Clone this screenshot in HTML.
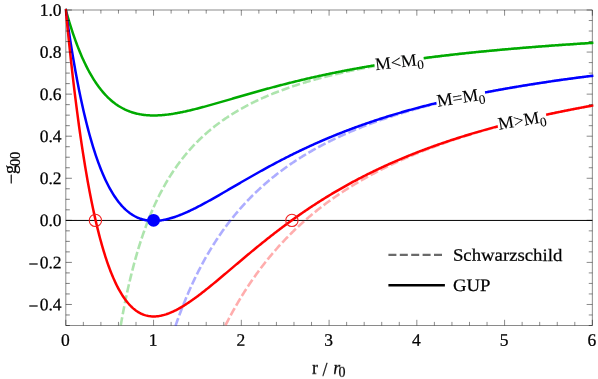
<!DOCTYPE html>
<html><head><meta charset="utf-8"><style>
html,body{margin:0;padding:0;background:#fff;}
body{width:598px;height:379px;overflow:hidden;font-family:"Liberation Serif",serif;}
svg{display:block}
text{font-family:"Liberation Serif",serif;fill:#000;stroke:#000;stroke-width:0.25px}
.tk line{stroke:#000;stroke-opacity:0.46;stroke-width:1}
.tk line.dk{stroke:#000;stroke-opacity:0.5}
</style></head><body>
<svg width="598" height="379" viewBox="0 0 598 379">
<rect width="598" height="379" fill="#fff"/>
<defs><clipPath id="cp"><rect x="64.70" y="7.80" width="528.95" height="318.40"/></clipPath></defs>
<line x1="65.80" y1="220.33" x2="592.35" y2="220.33" stroke="#000" stroke-width="1" transform="translate(0,0.1)"/>
<line x1="65.80" y1="10.00" x2="592.35" y2="10.00" stroke="#000" stroke-opacity="0.46"/>
<line x1="592.35" y1="10.00" x2="592.35" y2="325.50" stroke="#000" stroke-opacity="0.46"/>
<line x1="65.80" y1="10.00" x2="65.80" y2="325.50" stroke="#000" stroke-opacity="0.46"/>
<line x1="65.80" y1="325.50" x2="592.35" y2="325.50" stroke="#000" stroke-opacity="0.46"/>
<g clip-path="url(#cp)">
<path d="M118.31,339.89 L118.99,335.68 L119.67,331.58 L120.35,327.58 L121.03,323.67 L121.71,319.86 L122.39,316.15 L123.07,312.52 L123.75,308.97 L124.42,305.51 L125.10,302.13 L125.78,298.82 L126.46,295.59 L127.14,292.43 L127.82,289.34 L128.50,286.31 L129.18,283.35 L129.86,280.46 L130.53,277.62 L131.21,274.84 L131.89,272.12 L132.57,269.46 L133.25,266.84 L133.93,264.28 L134.61,261.78 L135.29,259.32 L135.97,256.90 L136.64,254.54 L137.32,252.22 L138.00,249.94 L138.68,247.70 L139.36,245.51 L140.04,243.36 L140.72,241.24 L141.40,239.17 L142.08,237.13 L142.75,235.12 L143.43,233.15 L144.11,231.22 L144.79,229.32 L145.47,227.45 L146.15,225.61 L146.83,223.81 L147.51,222.03 L148.19,220.28 L148.86,218.56 L149.54,216.87 L150.22,215.21 L150.90,213.57 L151.58,211.96 L152.26,210.37 L152.94,208.81 L153.62,207.28 L154.30,205.76 L154.97,204.27 L155.65,202.80 L156.33,201.36 L157.01,199.93 L157.69,198.53 L158.37,197.15 L159.05,195.79 L159.73,194.44 L160.41,193.12 L161.08,191.82 L161.76,190.53 L162.44,189.26 L163.12,188.01 L163.80,186.78 L164.48,185.56 L165.16,184.36 L165.84,183.18 L166.52,182.01 L167.19,180.86 L167.87,179.72 L168.55,178.60 L169.23,177.49 L169.91,176.40 L170.59,175.32 L171.27,174.26 L171.95,173.21 L172.63,172.17 L173.30,171.15 L173.98,170.14 L174.66,169.14 L175.34,168.15 L176.02,167.18 L176.70,166.22 L177.38,165.27 L178.06,164.33 L178.74,163.40 L179.41,162.48 L180.09,161.58 L180.77,160.68 L181.45,159.80 L182.13,158.92 L182.81,158.06 L183.49,157.20 L184.17,156.36 L184.85,155.53 L185.52,154.70 L186.20,153.88 L186.88,153.08 L187.56,152.28 L188.24,151.49 L188.92,150.71 L189.60,149.94 L190.28,149.18 L190.96,148.42 L191.63,147.67 L192.31,146.94 L192.99,146.20 L193.67,145.48 L194.35,144.77 L195.03,144.06 L195.71,143.36 L196.39,142.66 L197.07,141.98 L197.74,141.30 L198.42,140.63 L199.10,139.96 L199.78,139.30 L200.46,138.65 L201.14,138.01 L201.82,137.37 L202.50,136.73 L203.18,136.11 L203.85,135.49 L204.53,134.87 L205.21,134.27 L205.89,133.66 L206.57,133.07 L207.25,132.48 L207.93,131.89 L208.61,131.31 L209.29,130.74 L209.96,130.17 L210.64,129.61 L211.32,129.05 L212.00,128.50 L212.68,127.95 L213.36,127.40 L214.04,126.87 L214.72,126.33 L215.40,125.81 L216.07,125.28 L216.75,124.76 L217.43,124.25 L218.11,123.74 L218.79,123.24 L219.47,122.74 L220.15,122.24 L220.83,121.75 L221.51,121.26 L222.18,120.78 L222.86,120.30 L223.54,119.83 L224.22,119.35 L224.90,118.89 L225.58,118.43 L226.26,117.97 L226.94,117.51 L227.62,117.06 L228.29,116.61 L228.97,116.17 L229.65,115.73 L230.33,115.29 L231.01,114.86 L231.69,114.43 L232.37,114.01 L233.05,113.58 L233.73,113.17 L234.40,112.75 L235.08,112.34 L235.76,111.93 L236.44,111.52 L237.12,111.12 L237.80,110.72 L238.48,110.33 L239.16,109.93 L239.84,109.54 L240.51,109.16 L241.19,108.77 L241.87,108.39 L242.55,108.01 L243.23,107.64 L243.91,107.27 L244.59,106.90 L245.27,106.53 L245.95,106.17 L246.62,105.81 L247.30,105.45 L247.98,105.09 L248.66,104.74 L249.34,104.39 L250.02,104.04 L250.70,103.70 L251.38,103.35 L252.06,103.01 L252.73,102.67 L253.41,102.34 L254.09,102.01 L254.77,101.68 L255.45,101.35 L256.13,101.02 L256.81,100.70 L257.49,100.38 L258.17,100.06 L258.84,99.74 L259.52,99.43 L260.20,99.11 L260.88,98.80 L261.56,98.50 L262.24,98.19 L262.92,97.89 L263.60,97.59 L264.28,97.29 L264.95,96.99 L265.63,96.69 L266.31,96.40 L266.99,96.11 L267.67,95.82 L268.35,95.53 L269.03,95.24 L269.71,94.96 L270.39,94.68 L271.06,94.40 L271.74,94.12 L272.42,93.84 L273.10,93.57 L273.78,93.30 L274.46,93.03 L275.14,92.76 L275.82,92.49 L276.50,92.22 L277.17,91.96 L277.85,91.70 L278.53,91.44 L279.21,91.18 L279.89,90.92 L280.57,90.66 L281.25,90.41 L281.93,90.16 L282.61,89.91 L283.28,89.66 L283.96,89.41 L284.64,89.16 L285.32,88.92 L286.00,88.67 L286.68,88.43 L287.36,88.19 L288.04,87.95 L288.72,87.72 L289.40,87.48 L290.07,87.25 L290.75,87.01 L291.43,86.78 L292.11,86.55 L292.79,86.32 L293.47,86.09 L294.15,85.87 L294.83,85.64 L295.51,85.42 L296.18,85.20 L296.86,84.98 L297.54,84.76 L298.22,84.54 L298.90,84.32 L299.58,84.11 L300.26,83.89 L300.94,83.68 L301.62,83.47 L302.29,83.25 L302.97,83.04 L303.65,82.84 L304.33,82.63 L305.01,82.42 L305.69,82.22 L306.37,82.01 L307.05,81.81 L307.73,81.61 L308.40,81.41 L309.08,81.21 L309.76,81.01 L310.44,80.81 L311.12,80.62 L311.80,80.42 L312.48,80.23 L313.16,80.04 L313.84,79.85 L314.51,79.66 L315.19,79.47 L315.87,79.28 L316.55,79.09 L317.23,78.90 L317.91,78.72 L318.59,78.53 L319.27,78.35 L319.95,78.17 L320.62,77.98 L321.30,77.80 L321.98,77.62 L322.66,77.45 L323.34,77.27 L324.02,77.09 L324.70,76.92 L325.38,76.74 L326.06,76.57 L326.73,76.39 L327.41,76.22 L328.09,76.05 L328.77,75.88 L329.45,75.71 L330.13,75.54 L330.81,75.37 L331.49,75.21 L332.17,75.04 L332.84,74.87 L333.52,74.71 L334.20,74.55 L334.88,74.38 L335.56,74.22 L336.24,74.06 L336.92,73.90 L337.60,73.74 L338.28,73.58 L338.95,73.42 L339.63,73.27 L340.31,73.11 L340.99,72.95 L341.67,72.80 L342.35,72.64 L343.03,72.49 L343.71,72.34 L344.39,72.19 L345.06,72.04 L345.74,71.88 L346.42,71.73 L347.10,71.59 L347.78,71.44 L348.46,71.29 L349.14,71.14 L349.82,71.00 L350.50,70.85 L351.17,70.71 L351.85,70.56 L352.53,70.42 L353.21,70.28 L353.89,70.13 L354.57,69.99 L355.25,69.85 L355.93,69.71 L356.61,69.57 L357.28,69.43 L357.96,69.30 L358.64,69.16 L359.32,69.02 L360.00,68.89 L360.68,68.75 L361.36,68.62 L362.04,68.48 L362.72,68.35 L363.39,68.21 L364.07,68.08 L364.75,67.95 L365.43,67.82 L366.11,67.69 L366.79,67.56 L367.47,67.43 L368.15,67.30 L368.83,67.17 L369.50,67.04 L370.18,66.92 L370.86,66.79 L371.54,66.66 L372.22,66.54 L372.90,66.41 L373.58,66.29 L374.26,66.16 L374.94,66.04 L375.61,65.92 L376.29,65.80 L376.97,65.67 L377.65,65.55 L378.33,65.43 L379.01,65.31 L379.69,65.19 L380.37,65.07 L381.05,64.95 L381.72,64.84 L382.40,64.72 L383.08,64.60 L383.76,64.49 L384.44,64.37 L385.12,64.25 L385.80,64.14 L386.48,64.02 L387.16,63.91 L387.83,63.80 L388.51,63.68 L389.19,63.57 L389.87,63.46 L390.55,63.35 L391.23,63.23 L391.91,63.12 L392.59,63.01 L393.27,62.90 L393.94,62.79 L394.62,62.69 L395.30,62.58 L395.98,62.47 L396.66,62.36 L397.34,62.25 L398.02,62.15 L398.70,62.04 L399.38,61.93 L400.05,61.83 L400.73,61.72 L401.41,61.62 L402.09,61.52 L402.77,61.41 L403.45,61.31 L404.13,61.21 L404.81,61.10 L405.49,61.00 L406.16,60.90 L406.84,60.80 L407.52,60.70 L408.20,60.60 L408.88,60.50 L409.56,60.40 L410.24,60.30 L410.92,60.20 L411.60,60.10 L412.27,60.00 L412.95,59.90 L413.63,59.81 L414.31,59.71 L414.99,59.61 L415.67,59.52 L416.35,59.42 L417.03,59.32 L417.71,59.23 L418.38,59.13 L419.06,59.04 L419.74,58.95 L420.42,58.85 L421.10,58.76 L421.78,58.67 L422.46,58.57 L423.14,58.48 L423.82,58.39 L424.49,58.30 L425.17,58.21 L425.85,58.12 L426.53,58.03 L427.21,57.94 L427.89,57.85 L428.57,57.76 L429.25,57.67 L429.93,57.58 L430.60,57.49 L431.28,57.40 L431.96,57.31 L432.64,57.23 L433.32,57.14 L434.00,57.05 L434.68,56.96 L435.36,56.88 L436.04,56.79 L436.71,56.71 L437.39,56.62 L438.07,56.54 L438.75,56.45 L439.43,56.37 L440.11,56.28 L440.79,56.20 L441.47,56.12 L442.15,56.03 L442.82,55.95 L443.50,55.87 L444.18,55.78 L444.86,55.70 L445.54,55.62 L446.22,55.54 L446.90,55.46 L447.58,55.38 L448.26,55.30 L448.93,55.22 L449.61,55.14 L450.29,55.06 L450.97,54.98 L451.65,54.90 L452.33,54.82 L453.01,54.74 L453.69,54.66 L454.37,54.58 L455.04,54.51 L455.72,54.43 L456.40,54.35 L457.08,54.28 L457.76,54.20 L458.44,54.12 L459.12,54.05 L459.80,53.97 L460.48,53.89 L461.15,53.82 L461.83,53.74 L462.51,53.67 L463.19,53.59 L463.87,53.52 L464.55,53.45 L465.23,53.37 L465.91,53.30 L466.59,53.23 L467.26,53.15 L467.94,53.08 L468.62,53.01 L469.30,52.93 L469.98,52.86 L470.66,52.79 L471.34,52.72 L472.02,52.65 L472.70,52.58 L473.37,52.51 L474.05,52.43 L474.73,52.36 L475.41,52.29 L476.09,52.22 L476.77,52.15 L477.45,52.08 L478.13,52.02 L478.81,51.95 L479.48,51.88 L480.16,51.81 L480.84,51.74 L481.52,51.67 L482.20,51.60 L482.88,51.54 L483.56,51.47 L484.24,51.40 L484.92,51.34 L485.59,51.27 L486.27,51.20 L486.95,51.14 L487.63,51.07 L488.31,51.00 L488.99,50.94 L489.67,50.87 L490.35,50.81 L491.03,50.74 L491.70,50.68 L492.38,50.61 L493.06,50.55 L493.74,50.48 L494.42,50.42 L495.10,50.35 L495.78,50.29 L496.46,50.23 L497.14,50.16 L497.81,50.10 L498.49,50.04 L499.17,49.98 L499.85,49.91 L500.53,49.85 L501.21,49.79 L501.89,49.73 L502.57,49.66 L503.25,49.60 L503.92,49.54 L504.60,49.48 L505.28,49.42 L505.96,49.36 L506.64,49.30 L507.32,49.24 L508.00,49.18 L508.68,49.12 L509.36,49.06 L510.03,49.00 L510.71,48.94 L511.39,48.88 L512.07,48.82 L512.75,48.76 L513.43,48.70 L514.11,48.64 L514.79,48.59 L515.47,48.53 L516.14,48.47 L516.82,48.41 L517.50,48.35 L518.18,48.30 L518.86,48.24 L519.54,48.18 L520.22,48.12 L520.90,48.07 L521.58,48.01 L522.25,47.95 L522.93,47.90 L523.61,47.84 L524.29,47.79 L524.97,47.73 L525.65,47.67 L526.33,47.62 L527.01,47.56 L527.69,47.51 L528.36,47.45 L529.04,47.40 L529.72,47.34 L530.40,47.29 L531.08,47.23 L531.76,47.18 L532.44,47.13 L533.12,47.07 L533.80,47.02 L534.47,46.96 L535.15,46.91 L535.83,46.86 L536.51,46.80 L537.19,46.75 L537.87,46.70 L538.55,46.65 L539.23,46.59 L539.91,46.54 L540.58,46.49 L541.26,46.44 L541.94,46.38 L542.62,46.33 L543.30,46.28 L543.98,46.23 L544.66,46.18 L545.34,46.13 L546.02,46.08 L546.69,46.02 L547.37,45.97 L548.05,45.92 L548.73,45.87 L549.41,45.82 L550.09,45.77 L550.77,45.72 L551.45,45.67 L552.13,45.62 L552.80,45.57 L553.48,45.52 L554.16,45.47 L554.84,45.42 L555.52,45.38 L556.20,45.33 L556.88,45.28 L557.56,45.23 L558.24,45.18 L558.91,45.13 L559.59,45.08 L560.27,45.04 L560.95,44.99 L561.63,44.94 L562.31,44.89 L562.99,44.84 L563.67,44.80 L564.35,44.75 L565.02,44.70 L565.70,44.66 L566.38,44.61 L567.06,44.56 L567.74,44.51 L568.42,44.47 L569.10,44.42 L569.78,44.37 L570.46,44.33 L571.13,44.28 L571.81,44.24 L572.49,44.19 L573.17,44.14 L573.85,44.10 L574.53,44.05 L575.21,44.01 L575.89,43.96 L576.57,43.92 L577.24,43.87 L577.92,43.83 L578.60,43.78 L579.28,43.74 L579.96,43.69 L580.64,43.65 L581.32,43.61 L582.00,43.56 L582.68,43.52 L583.35,43.47 L584.03,43.43 L584.71,43.39 L585.39,43.34 L586.07,43.30 L586.75,43.26 L587.43,43.21 L588.11,43.17 L588.79,43.13 L589.46,43.08 L590.14,43.04 L590.82,43.00 L591.50,42.95 L592.18,42.91" fill="none" stroke="#00aa00" stroke-opacity="0.32" stroke-width="2.6" stroke-dasharray="8.30 2.87" stroke-dashoffset="7.56"/>
<path d="M170.76,340.11 L171.44,337.99 L172.12,335.90 L172.80,333.83 L173.47,331.79 L174.15,329.77 L174.83,327.78 L175.51,325.81 L176.19,323.87 L176.87,321.95 L177.55,320.06 L178.23,318.19 L178.91,316.34 L179.58,314.51 L180.26,312.70 L180.94,310.92 L181.62,309.15 L182.30,307.41 L182.98,305.69 L183.66,303.98 L184.34,302.30 L185.02,300.64 L185.69,298.99 L186.37,297.36 L187.05,295.75 L187.73,294.16 L188.41,292.59 L189.09,291.03 L189.77,289.49 L190.45,287.97 L191.13,286.47 L191.80,284.98 L192.48,283.50 L193.16,282.05 L193.84,280.60 L194.52,279.18 L195.20,277.76 L195.88,276.37 L196.56,274.98 L197.24,273.61 L197.91,272.26 L198.59,270.92 L199.27,269.59 L199.95,268.28 L200.63,266.98 L201.31,265.69 L201.99,264.42 L202.67,263.15 L203.35,261.90 L204.02,260.67 L204.70,259.44 L205.38,258.23 L206.06,257.03 L206.74,255.84 L207.42,254.66 L208.10,253.49 L208.78,252.34 L209.46,251.19 L210.13,250.06 L210.81,248.93 L211.49,247.82 L212.17,246.72 L212.85,245.62 L213.53,244.54 L214.21,243.47 L214.89,242.40 L215.57,241.35 L216.24,240.31 L216.92,239.27 L217.60,238.25 L218.28,237.23 L218.96,236.22 L219.64,235.22 L220.32,234.24 L221.00,233.25 L221.68,232.28 L222.35,231.32 L223.03,230.36 L223.71,229.42 L224.39,228.48 L225.07,227.54 L225.75,226.62 L226.43,225.71 L227.11,224.80 L227.79,223.90 L228.46,223.00 L229.14,222.12 L229.82,221.24 L230.50,220.37 L231.18,219.51 L231.86,218.65 L232.54,217.80 L233.22,216.96 L233.90,216.12 L234.57,215.29 L235.25,214.47 L235.93,213.66 L236.61,212.85 L237.29,212.04 L237.97,211.25 L238.65,210.46 L239.33,209.67 L240.01,208.89 L240.68,208.12 L241.36,207.36 L242.04,206.59 L242.72,205.84 L243.40,205.09 L244.08,204.35 L244.76,203.61 L245.44,202.88 L246.12,202.15 L246.79,201.43 L247.47,200.72 L248.15,200.01 L248.83,199.30 L249.51,198.60 L250.19,197.91 L250.87,197.22 L251.55,196.54 L252.23,195.86 L252.90,195.18 L253.58,194.51 L254.26,193.85 L254.94,193.19 L255.62,192.53 L256.30,191.88 L256.98,191.24 L257.66,190.59 L258.34,189.96 L259.01,189.33 L259.69,188.70 L260.37,188.07 L261.05,187.46 L261.73,186.84 L262.41,186.23 L263.09,185.62 L263.77,185.02 L264.45,184.42 L265.12,183.83 L265.80,183.24 L266.48,182.65 L267.16,182.07 L267.84,181.49 L268.52,180.92 L269.20,180.35 L269.88,179.78 L270.56,179.22 L271.23,178.66 L271.91,178.10 L272.59,177.55 L273.27,177.00 L273.95,176.46 L274.63,175.92 L275.31,175.38 L275.99,174.85 L276.67,174.31 L277.34,173.79 L278.02,173.26 L278.70,172.74 L279.38,172.23 L280.06,171.71 L280.74,171.20 L281.42,170.69 L282.10,170.19 L282.78,169.69 L283.45,169.19 L284.13,168.69 L284.81,168.20 L285.49,167.71 L286.17,167.23 L286.85,166.75 L287.53,166.27 L288.21,165.79 L288.89,165.31 L289.56,164.84 L290.24,164.37 L290.92,163.91 L291.60,163.45 L292.28,162.99 L292.96,162.53 L293.64,162.07 L294.32,161.62 L295.00,161.17 L295.67,160.73 L296.35,160.28 L297.03,159.84 L297.71,159.40 L298.39,158.97 L299.07,158.53 L299.75,158.10 L300.43,157.67 L301.11,157.25 L301.78,156.82 L302.46,156.40 L303.14,155.98 L303.82,155.57 L304.50,155.15 L305.18,154.74 L305.86,154.33 L306.54,153.93 L307.22,153.52 L307.89,153.12 L308.57,152.72 L309.25,152.32 L309.93,151.93 L310.61,151.53 L311.29,151.14 L311.97,150.75 L312.65,150.36 L313.33,149.98 L314.00,149.60 L314.68,149.22 L315.36,148.84 L316.04,148.46 L316.72,148.09 L317.40,147.71 L318.08,147.34 L318.76,146.97 L319.44,146.61 L320.11,146.24 L320.79,145.88 L321.47,145.52 L322.15,145.16 L322.83,144.80 L323.51,144.45 L324.19,144.09 L324.87,143.74 L325.55,143.39 L326.22,143.05 L326.90,142.70 L327.58,142.36 L328.26,142.01 L328.94,141.67 L329.62,141.33 L330.30,141.00 L330.98,140.66 L331.66,140.33 L332.33,140.00 L333.01,139.67 L333.69,139.34 L334.37,139.01 L335.05,138.68 L335.73,138.36 L336.41,138.04 L337.09,137.72 L337.77,137.40 L338.44,137.08 L339.12,136.77 L339.80,136.45 L340.48,136.14 L341.16,135.83 L341.84,135.52 L342.52,135.21 L343.20,134.91 L343.88,134.60 L344.55,134.30 L345.23,133.99 L345.91,133.69 L346.59,133.40 L347.27,133.10 L347.95,132.80 L348.63,132.51 L349.31,132.21 L349.99,131.92 L350.66,131.63 L351.34,131.34 L352.02,131.05 L352.70,130.77 L353.38,130.48 L354.06,130.20 L354.74,129.92 L355.42,129.64 L356.10,129.36 L356.77,129.08 L357.45,128.80 L358.13,128.52 L358.81,128.25 L359.49,127.98 L360.17,127.70 L360.85,127.43 L361.53,127.16 L362.21,126.89 L362.88,126.63 L363.56,126.36 L364.24,126.10 L364.92,125.83 L365.60,125.57 L366.28,125.31 L366.96,125.05 L367.64,124.79 L368.32,124.53 L368.99,124.28 L369.67,124.02 L370.35,123.77 L371.03,123.51 L371.71,123.26 L372.39,123.01 L373.07,122.76 L373.75,122.51 L374.43,122.27 L375.10,122.02 L375.78,121.77 L376.46,121.53 L377.14,121.29 L377.82,121.05 L378.50,120.80 L379.18,120.56 L379.86,120.33 L380.54,120.09 L381.21,119.85 L381.89,119.61 L382.57,119.38 L383.25,119.15 L383.93,118.91 L384.61,118.68 L385.29,118.45 L385.97,118.22 L386.65,117.99 L387.32,117.76 L388.00,117.54 L388.68,117.31 L389.36,117.08 L390.04,116.86 L390.72,116.64 L391.40,116.41 L392.08,116.19 L392.76,115.97 L393.44,115.75 L394.11,115.53 L394.79,115.32 L395.47,115.10 L396.15,114.88 L396.83,114.67 L397.51,114.45 L398.19,114.24 L398.87,114.03 L399.55,113.82 L400.22,113.61 L400.90,113.40 L401.58,113.19 L402.26,112.98 L402.94,112.77 L403.62,112.57 L404.30,112.36 L404.98,112.15 L405.66,111.95 L406.33,111.75 L407.01,111.54 L407.69,111.34 L408.37,111.14 L409.05,110.94 L409.73,110.74 L410.41,110.54 L411.09,110.35 L411.77,110.15 L412.44,109.95 L413.12,109.76 L413.80,109.56 L414.48,109.37 L415.16,109.18 L415.84,108.98 L416.52,108.79 L417.20,108.60 L417.88,108.41 L418.55,108.22 L419.23,108.03 L419.91,107.85 L420.59,107.66 L421.27,107.47 L421.95,107.29 L422.63,107.10 L423.31,106.92 L423.99,106.73 L424.66,106.55 L425.34,106.37 L426.02,106.19 L426.70,106.01 L427.38,105.83 L428.06,105.65 L428.74,105.47 L429.42,105.29 L430.10,105.11 L430.77,104.93 L431.45,104.76 L432.13,104.58 L432.81,104.41 L433.49,104.23 L434.17,104.06 L434.85,103.89 L435.53,103.71 L436.21,103.54 L436.88,103.37 L437.56,103.20 L438.24,103.03 L438.92,102.86 L439.60,102.69 L440.28,102.52 L440.96,102.36 L441.64,102.19 L442.32,102.02 L442.99,101.86 L443.67,101.69 L444.35,101.53 L445.03,101.36 L445.71,101.20 L446.39,101.04 L447.07,100.88 L447.75,100.72 L448.43,100.55 L449.10,100.39 L449.78,100.23 L450.46,100.07 L451.14,99.92 L451.82,99.76 L452.50,99.60 L453.18,99.44 L453.86,99.29 L454.54,99.13 L455.21,98.98 L455.89,98.82 L456.57,98.67 L457.25,98.51 L457.93,98.36 L458.61,98.21 L459.29,98.05 L459.97,97.90 L460.65,97.75 L461.32,97.60 L462.00,97.45 L462.68,97.30 L463.36,97.15 L464.04,97.00 L464.72,96.86 L465.40,96.71 L466.08,96.56 L466.76,96.41 L467.43,96.27 L468.11,96.12 L468.79,95.98 L469.47,95.83 L470.15,95.69 L470.83,95.55 L471.51,95.40 L472.19,95.26 L472.87,95.12 L473.54,94.98 L474.22,94.83 L474.90,94.69 L475.58,94.55 L476.26,94.41 L476.94,94.27 L477.62,94.14 L478.30,94.00 L478.98,93.86 L479.65,93.72 L480.33,93.58 L481.01,93.45 L481.69,93.31 L482.37,93.18 L483.05,93.04 L483.73,92.91 L484.41,92.77 L485.09,92.64 L485.76,92.50 L486.44,92.37 L487.12,92.24 L487.80,92.10 L488.48,91.97 L489.16,91.84 L489.84,91.71 L490.52,91.58 L491.20,91.45 L491.87,91.32 L492.55,91.19 L493.23,91.06 L493.91,90.93 L494.59,90.81 L495.27,90.68 L495.95,90.55 L496.63,90.42 L497.31,90.30 L497.98,90.17 L498.66,90.04 L499.34,89.92 L500.02,89.79 L500.70,89.67 L501.38,89.55 L502.06,89.42 L502.74,89.30 L503.42,89.18 L504.09,89.05 L504.77,88.93 L505.45,88.81 L506.13,88.69 L506.81,88.57 L507.49,88.45 L508.17,88.32 L508.85,88.20 L509.53,88.09 L510.20,87.97 L510.88,87.85 L511.56,87.73 L512.24,87.61 L512.92,87.49 L513.60,87.37 L514.28,87.26 L514.96,87.14 L515.64,87.02 L516.31,86.91 L516.99,86.79 L517.67,86.68 L518.35,86.56 L519.03,86.45 L519.71,86.33 L520.39,86.22 L521.07,86.11 L521.75,85.99 L522.42,85.88 L523.10,85.77 L523.78,85.65 L524.46,85.54 L525.14,85.43 L525.82,85.32 L526.50,85.21 L527.18,85.10 L527.86,84.99 L528.53,84.88 L529.21,84.77 L529.89,84.66 L530.57,84.55 L531.25,84.44 L531.93,84.33 L532.61,84.22 L533.29,84.12 L533.97,84.01 L534.64,83.90 L535.32,83.79 L536.00,83.69 L536.68,83.58 L537.36,83.48 L538.04,83.37 L538.72,83.27 L539.40,83.16 L540.08,83.06 L540.75,82.95 L541.43,82.85 L542.11,82.74 L542.79,82.64 L543.47,82.54 L544.15,82.43 L544.83,82.33 L545.51,82.23 L546.19,82.13 L546.86,82.02 L547.54,81.92 L548.22,81.82 L548.90,81.72 L549.58,81.62 L550.26,81.52 L550.94,81.42 L551.62,81.32 L552.30,81.22 L552.97,81.12 L553.65,81.02 L554.33,80.92 L555.01,80.82 L555.69,80.73 L556.37,80.63 L557.05,80.53 L557.73,80.43 L558.41,80.34 L559.08,80.24 L559.76,80.14 L560.44,80.05 L561.12,79.95 L561.80,79.86 L562.48,79.76 L563.16,79.66 L563.84,79.57 L564.52,79.48 L565.19,79.38 L565.87,79.29 L566.55,79.19 L567.23,79.10 L567.91,79.01 L568.59,78.91 L569.27,78.82 L569.95,78.73 L570.63,78.63 L571.30,78.54 L571.98,78.45 L572.66,78.36 L573.34,78.27 L574.02,78.18 L574.70,78.08 L575.38,77.99 L576.06,77.90 L576.74,77.81 L577.41,77.72 L578.09,77.63 L578.77,77.54 L579.45,77.46 L580.13,77.37 L580.81,77.28 L581.49,77.19 L582.17,77.10 L582.85,77.01 L583.52,76.92 L584.20,76.84 L584.88,76.75 L585.56,76.66 L586.24,76.58 L586.92,76.49 L587.60,76.40 L588.28,76.32 L588.96,76.23 L589.63,76.14 L590.31,76.06 L590.99,75.97 L591.67,75.89 L592.35,75.80" fill="none" stroke="#0000ff" stroke-opacity="0.32" stroke-width="2.6" stroke-dasharray="8.30 2.87" stroke-dashoffset="7.40"/>
<path d="M218.28,340.17 L218.96,338.70 L219.64,337.25 L220.32,335.81 L221.00,334.39 L221.68,332.98 L222.35,331.58 L223.03,330.19 L223.71,328.81 L224.39,327.45 L225.07,326.09 L225.75,324.75 L226.43,323.42 L227.11,322.10 L227.79,320.79 L228.46,319.50 L229.14,318.21 L229.82,316.93 L230.50,315.67 L231.18,314.41 L231.86,313.17 L232.54,311.94 L233.22,310.71 L233.90,309.50 L234.57,308.29 L235.25,307.10 L235.93,305.91 L236.61,304.74 L237.29,303.57 L237.97,302.41 L238.65,301.26 L239.33,300.12 L240.01,298.99 L240.68,297.87 L241.36,296.76 L242.04,295.65 L242.72,294.56 L243.40,293.47 L244.08,292.39 L244.76,291.32 L245.44,290.25 L246.12,289.20 L246.79,288.15 L247.47,287.11 L248.15,286.08 L248.83,285.06 L249.51,284.04 L250.19,283.03 L250.87,282.03 L251.55,281.04 L252.23,280.05 L252.90,279.07 L253.58,278.10 L254.26,277.13 L254.94,276.17 L255.62,275.22 L256.30,274.27 L256.98,273.34 L257.66,272.40 L258.34,271.48 L259.01,270.56 L259.69,269.65 L260.37,268.74 L261.05,267.84 L261.73,266.95 L262.41,266.06 L263.09,265.18 L263.77,264.31 L264.45,263.44 L265.12,262.57 L265.80,261.72 L266.48,260.86 L267.16,260.02 L267.84,259.18 L268.52,258.34 L269.20,257.52 L269.88,256.69 L270.56,255.87 L271.23,255.06 L271.91,254.25 L272.59,253.45 L273.27,252.66 L273.95,251.86 L274.63,251.08 L275.31,250.30 L275.99,249.52 L276.67,248.75 L277.34,247.98 L278.02,247.22 L278.70,246.47 L279.38,245.71 L280.06,244.97 L280.74,244.22 L281.42,243.49 L282.10,242.75 L282.78,242.03 L283.45,241.30 L284.13,240.58 L284.81,239.87 L285.49,239.16 L286.17,238.45 L286.85,237.75 L287.53,237.05 L288.21,236.36 L288.89,235.67 L289.56,234.99 L290.24,234.31 L290.92,233.63 L291.60,232.96 L292.28,232.29 L292.96,231.62 L293.64,230.96 L294.32,230.31 L295.00,229.66 L295.67,229.01 L296.35,228.36 L297.03,227.72 L297.71,227.08 L298.39,226.45 L299.07,225.82 L299.75,225.19 L300.43,224.57 L301.11,223.95 L301.78,223.34 L302.46,222.72 L303.14,222.12 L303.82,221.51 L304.50,220.91 L305.18,220.31 L305.86,219.72 L306.54,219.12 L307.22,218.54 L307.89,217.95 L308.57,217.37 L309.25,216.79 L309.93,216.22 L310.61,215.65 L311.29,215.08 L311.97,214.51 L312.65,213.95 L313.33,213.39 L314.00,212.83 L314.68,212.28 L315.36,211.73 L316.04,211.18 L316.72,210.64 L317.40,210.10 L318.08,209.56 L318.76,209.02 L319.44,208.49 L320.11,207.96 L320.79,207.43 L321.47,206.91 L322.15,206.39 L322.83,205.87 L323.51,205.35 L324.19,204.84 L324.87,204.33 L325.55,203.82 L326.22,203.32 L326.90,202.81 L327.58,202.31 L328.26,201.82 L328.94,201.32 L329.62,200.83 L330.30,200.34 L330.98,199.85 L331.66,199.37 L332.33,198.88 L333.01,198.40 L333.69,197.93 L334.37,197.45 L335.05,196.98 L335.73,196.51 L336.41,196.04 L337.09,195.57 L337.77,195.11 L338.44,194.65 L339.12,194.19 L339.80,193.74 L340.48,193.28 L341.16,192.83 L341.84,192.38 L342.52,191.93 L343.20,191.49 L343.88,191.04 L344.55,190.60 L345.23,190.16 L345.91,189.73 L346.59,189.29 L347.27,188.86 L347.95,188.43 L348.63,188.00 L349.31,187.58 L349.99,187.15 L350.66,186.73 L351.34,186.31 L352.02,185.89 L352.70,185.48 L353.38,185.06 L354.06,184.65 L354.74,184.24 L355.42,183.83 L356.10,183.42 L356.77,183.02 L357.45,182.62 L358.13,182.21 L358.81,181.82 L359.49,181.42 L360.17,181.02 L360.85,180.63 L361.53,180.24 L362.21,179.85 L362.88,179.46 L363.56,179.07 L364.24,178.69 L364.92,178.31 L365.60,177.93 L366.28,177.55 L366.96,177.17 L367.64,176.79 L368.32,176.42 L368.99,176.05 L369.67,175.67 L370.35,175.30 L371.03,174.94 L371.71,174.57 L372.39,174.21 L373.07,173.84 L373.75,173.48 L374.43,173.12 L375.10,172.77 L375.78,172.41 L376.46,172.05 L377.14,171.70 L377.82,171.35 L378.50,171.00 L379.18,170.65 L379.86,170.30 L380.54,169.96 L381.21,169.61 L381.89,169.27 L382.57,168.93 L383.25,168.59 L383.93,168.25 L384.61,167.91 L385.29,167.58 L385.97,167.24 L386.65,166.91 L387.32,166.58 L388.00,166.25 L388.68,165.92 L389.36,165.59 L390.04,165.27 L390.72,164.94 L391.40,164.62 L392.08,164.30 L392.76,163.98 L393.44,163.66 L394.11,163.34 L394.79,163.02 L395.47,162.71 L396.15,162.40 L396.83,162.08 L397.51,161.77 L398.19,161.46 L398.87,161.15 L399.55,160.85 L400.22,160.54 L400.90,160.23 L401.58,159.93 L402.26,159.63 L402.94,159.33 L403.62,159.03 L404.30,158.73 L404.98,158.43 L405.66,158.13 L406.33,157.84 L407.01,157.54 L407.69,157.25 L408.37,156.96 L409.05,156.67 L409.73,156.38 L410.41,156.09 L411.09,155.80 L411.77,155.52 L412.44,155.23 L413.12,154.95 L413.80,154.67 L414.48,154.38 L415.16,154.10 L415.84,153.82 L416.52,153.55 L417.20,153.27 L417.88,152.99 L418.55,152.72 L419.23,152.44 L419.91,152.17 L420.59,151.90 L421.27,151.63 L421.95,151.36 L422.63,151.09 L423.31,150.82 L423.99,150.55 L424.66,150.29 L425.34,150.02 L426.02,149.76 L426.70,149.50 L427.38,149.23 L428.06,148.97 L428.74,148.71 L429.42,148.45 L430.10,148.20 L430.77,147.94 L431.45,147.68 L432.13,147.43 L432.81,147.17 L433.49,146.92 L434.17,146.67 L434.85,146.42 L435.53,146.17 L436.21,145.92 L436.88,145.67 L437.56,145.42 L438.24,145.17 L438.92,144.93 L439.60,144.68 L440.28,144.44 L440.96,144.19 L441.64,143.95 L442.32,143.71 L442.99,143.47 L443.67,143.23 L444.35,142.99 L445.03,142.75 L445.71,142.52 L446.39,142.28 L447.07,142.04 L447.75,141.81 L448.43,141.58 L449.10,141.34 L449.78,141.11 L450.46,140.88 L451.14,140.65 L451.82,140.42 L452.50,140.19 L453.18,139.96 L453.86,139.73 L454.54,139.51 L455.21,139.28 L455.89,139.06 L456.57,138.83 L457.25,138.61 L457.93,138.39 L458.61,138.16 L459.29,137.94 L459.97,137.72 L460.65,137.50 L461.32,137.28 L462.00,137.07 L462.68,136.85 L463.36,136.63 L464.04,136.42 L464.72,136.20 L465.40,135.99 L466.08,135.77 L466.76,135.56 L467.43,135.35 L468.11,135.14 L468.79,134.93 L469.47,134.72 L470.15,134.51 L470.83,134.30 L471.51,134.09 L472.19,133.88 L472.87,133.68 L473.54,133.47 L474.22,133.26 L474.90,133.06 L475.58,132.86 L476.26,132.65 L476.94,132.45 L477.62,132.25 L478.30,132.05 L478.98,131.85 L479.65,131.65 L480.33,131.45 L481.01,131.25 L481.69,131.05 L482.37,130.85 L483.05,130.66 L483.73,130.46 L484.41,130.27 L485.09,130.07 L485.76,129.88 L486.44,129.68 L487.12,129.49 L487.80,129.30 L488.48,129.11 L489.16,128.92 L489.84,128.73 L490.52,128.54 L491.20,128.35 L491.87,128.16 L492.55,127.97 L493.23,127.78 L493.91,127.60 L494.59,127.41 L495.27,127.22 L495.95,127.04 L496.63,126.85 L497.31,126.67 L497.98,126.49 L498.66,126.30 L499.34,126.12 L500.02,125.94 L500.70,125.76 L501.38,125.58 L502.06,125.40 L502.74,125.22 L503.42,125.04 L504.09,124.86 L504.77,124.69 L505.45,124.51 L506.13,124.33 L506.81,124.16 L507.49,123.98 L508.17,123.81 L508.85,123.63 L509.53,123.46 L510.20,123.28 L510.88,123.11 L511.56,122.94 L512.24,122.77 L512.92,122.60 L513.60,122.43 L514.28,122.26 L514.96,122.09 L515.64,121.92 L516.31,121.75 L516.99,121.58 L517.67,121.41 L518.35,121.25 L519.03,121.08 L519.71,120.91 L520.39,120.75 L521.07,120.58 L521.75,120.42 L522.42,120.25 L523.10,120.09 L523.78,119.93 L524.46,119.76 L525.14,119.60 L525.82,119.44 L526.50,119.28 L527.18,119.12 L527.86,118.96 L528.53,118.80 L529.21,118.64 L529.89,118.48 L530.57,118.32 L531.25,118.16 L531.93,118.00 L532.61,117.85 L533.29,117.69 L533.97,117.53 L534.64,117.38 L535.32,117.22 L536.00,117.07 L536.68,116.91 L537.36,116.76 L538.04,116.61 L538.72,116.45 L539.40,116.30 L540.08,116.15 L540.75,116.00 L541.43,115.85 L542.11,115.70 L542.79,115.55 L543.47,115.40 L544.15,115.25 L544.83,115.10 L545.51,114.95 L546.19,114.80 L546.86,114.65 L547.54,114.50 L548.22,114.36 L548.90,114.21 L549.58,114.06 L550.26,113.92 L550.94,113.77 L551.62,113.63 L552.30,113.48 L552.97,113.34 L553.65,113.20 L554.33,113.05 L555.01,112.91 L555.69,112.77 L556.37,112.62 L557.05,112.48 L557.73,112.34 L558.41,112.20 L559.08,112.06 L559.76,111.92 L560.44,111.78 L561.12,111.64 L561.80,111.50 L562.48,111.36 L563.16,111.22 L563.84,111.09 L564.52,110.95 L565.19,110.81 L565.87,110.67 L566.55,110.54 L567.23,110.40 L567.91,110.27 L568.59,110.13 L569.27,109.99 L569.95,109.86 L570.63,109.73 L571.30,109.59 L571.98,109.46 L572.66,109.32 L573.34,109.19 L574.02,109.06 L574.70,108.93 L575.38,108.80 L576.06,108.66 L576.74,108.53 L577.41,108.40 L578.09,108.27 L578.77,108.14 L579.45,108.01 L580.13,107.88 L580.81,107.75 L581.49,107.63 L582.17,107.50 L582.85,107.37 L583.52,107.24 L584.20,107.11 L584.88,106.99 L585.56,106.86 L586.24,106.73 L586.92,106.61 L587.60,106.48 L588.28,106.36 L588.96,106.23 L589.63,106.11 L590.31,105.98 L590.99,105.86 L591.67,105.73 L592.35,105.61" fill="none" stroke="#ff0000" stroke-opacity="0.32" stroke-width="2.6" stroke-dasharray="8.30 2.87" stroke-dashoffset="5.77"/>
<path d="M65.81,10.03 L66.69,13.16 L67.57,16.22 L68.45,19.20 L69.32,22.11 L70.20,24.95 L71.08,27.72 L71.96,30.43 L72.84,33.07 L73.72,35.65 L74.60,38.16 L75.48,40.61 L76.36,43.00 L77.24,45.33 L78.12,47.60 L78.99,49.82 L79.87,51.98 L80.75,54.09 L81.63,56.14 L82.51,58.14 L83.39,60.08 L84.27,61.98 L85.15,63.83 L86.03,65.63 L86.91,67.38 L87.78,69.09 L88.66,70.75 L89.54,72.37 L90.42,73.94 L91.30,75.47 L92.18,76.96 L93.06,78.41 L93.94,79.81 L94.82,81.18 L95.70,82.51 L96.57,83.81 L97.45,85.06 L98.33,86.28 L99.21,87.46 L100.09,88.61 L100.97,89.73 L101.85,90.81 L102.73,91.86 L103.61,92.88 L104.49,93.87 L105.37,94.83 L106.24,95.75 L107.12,96.65 L108.00,97.52 L108.88,98.36 L109.76,99.18 L110.64,99.97 L111.52,100.73 L112.40,101.47 L113.28,102.18 L114.16,102.86 L115.03,103.53 L115.91,104.17 L116.79,104.78 L117.67,105.38 L118.55,105.95 L119.43,106.50 L120.31,107.03 L121.19,107.54 L122.07,108.03 L122.95,108.50 L123.83,108.95 L124.70,109.38 L125.58,109.79 L126.46,110.19 L127.34,110.57 L128.22,110.93 L129.10,111.27 L129.98,111.60 L130.86,111.91 L131.74,112.21 L132.62,112.49 L133.49,112.75 L134.37,113.00 L135.25,113.24 L136.13,113.46 L137.01,113.67 L137.89,113.87 L138.77,114.05 L139.65,114.22 L140.53,114.38 L141.41,114.53 L142.28,114.66 L143.16,114.78 L144.04,114.90 L144.92,115.00 L145.80,115.09 L146.68,115.16 L147.56,115.23 L148.44,115.29 L149.32,115.34 L150.20,115.38 L151.08,115.41 L151.95,115.43 L152.83,115.45 L153.71,115.45 L154.59,115.45 L155.47,115.44 L156.35,115.42 L157.23,115.39 L158.11,115.35 L158.99,115.31 L159.87,115.26 L160.74,115.20 L161.62,115.14 L162.50,115.07 L163.38,114.99 L164.26,114.91 L165.14,114.82 L166.02,114.72 L166.90,114.62 L167.78,114.52 L168.66,114.40 L169.53,114.29 L170.41,114.16 L171.29,114.04 L172.17,113.90 L173.05,113.77 L173.93,113.62 L174.81,113.48 L175.69,113.33 L176.57,113.17 L177.45,113.01 L178.33,112.85 L179.20,112.68 L180.08,112.51 L180.96,112.34 L181.84,112.16 L182.72,111.98 L183.60,111.79 L184.48,111.60 L185.36,111.41 L186.24,111.22 L187.12,111.02 L187.99,110.82 L188.87,110.62 L189.75,110.41 L190.63,110.21 L191.51,110.00 L192.39,109.78 L193.27,109.57 L194.15,109.35 L195.03,109.13 L195.91,108.91 L196.78,108.69 L197.66,108.46 L198.54,108.24 L199.42,108.01 L200.30,107.78 L201.18,107.54 L202.06,107.31 L202.94,107.07 L203.82,106.84 L204.70,106.60 L205.58,106.36 L206.45,106.12 L207.33,105.88 L208.21,105.64 L209.09,105.39 L209.97,105.15 L210.85,104.90 L211.73,104.65 L212.61,104.41 L213.49,104.16 L214.37,103.91 L215.24,103.66 L216.12,103.41 L217.00,103.16 L217.88,102.91 L218.76,102.65 L219.64,102.40 L220.52,102.15 L221.40,101.89 L222.28,101.64 L223.16,101.38 L224.03,101.13 L224.91,100.87 L225.79,100.62 L226.67,100.36 L227.55,100.11 L228.43,99.85 L229.31,99.60 L230.19,99.34 L231.07,99.08 L231.95,98.83 L232.83,98.57 L233.70,98.31 L234.58,98.06 L235.46,97.80 L236.34,97.55 L237.22,97.29 L238.10,97.04 L238.98,96.78 L239.86,96.53 L240.74,96.27 L241.62,96.02 L242.49,95.76 L243.37,95.51 L244.25,95.25 L245.13,95.00 L246.01,94.75 L246.89,94.49 L247.77,94.24 L248.65,93.99 L249.53,93.74 L250.41,93.49 L251.28,93.24 L252.16,92.99 L253.04,92.74 L253.92,92.49 L254.80,92.24 L255.68,91.99 L256.56,91.74 L257.44,91.50 L258.32,91.25 L259.20,91.00 L260.08,90.76 L260.95,90.51 L261.83,90.27 L262.71,90.03 L263.59,89.78 L264.47,89.54 L265.35,89.30 L266.23,89.06 L267.11,88.82 L267.99,88.58 L268.87,88.34 L269.74,88.10 L270.62,87.87 L271.50,87.63 L272.38,87.39 L273.26,87.16 L274.14,86.92 L275.02,86.69 L275.90,86.46 L276.78,86.22 L277.66,85.99 L278.53,85.76 L279.41,85.53 L280.29,85.30 L281.17,85.07 L282.05,84.85 L282.93,84.62 L283.81,84.39 L284.69,84.17 L285.57,83.94 L286.45,83.72 L287.33,83.50 L288.20,83.28 L289.08,83.05 L289.96,82.83 L290.84,82.61 L291.72,82.39 L292.60,82.18 L293.48,81.96 L294.36,81.74 L295.24,81.53 L296.12,81.31 L296.99,81.10 L297.87,80.89 L298.75,80.67 L299.63,80.46 L300.51,80.25 L301.39,80.04 L302.27,79.83 L303.15,79.62 L304.03,79.42 L304.91,79.21 L305.78,79.00 L306.66,78.80 L307.54,78.59 L308.42,78.39 L309.30,78.19 L310.18,77.99 L311.06,77.79 L311.94,77.59 L312.82,77.39 L313.70,77.19 L314.58,76.99 L315.45,76.80 L316.33,76.60 L317.21,76.40 L318.09,76.21 L318.97,76.02 L319.85,75.82 L320.73,75.63 L321.61,75.44 L322.49,75.25 L323.37,75.06 L324.24,74.87 L325.12,74.69 L326.00,74.50 L326.88,74.31 L327.76,74.13 L328.64,73.94 L329.52,73.76 L330.40,73.58 L331.28,73.39 L332.16,73.21 L333.04,73.03 L333.91,72.85 L334.79,72.67 L335.67,72.50 L336.55,72.32 L337.43,72.14 L338.31,71.97 L339.19,71.79 L340.07,71.62 L340.95,71.44 L341.83,71.27 L342.70,71.10 L343.58,70.93 L344.46,70.76 L345.34,70.59 L346.22,70.42 L347.10,70.25 L347.98,70.08 L348.86,69.91 L349.74,69.75 L350.62,69.58 L351.49,69.42 L352.37,69.26 L353.25,69.09 L354.13,68.93 L355.01,68.77 L355.89,68.61 L356.77,68.45 L357.65,68.29 L358.53,68.13 L359.41,67.97 L360.29,67.81 L361.16,67.66 L362.04,67.50 L362.92,67.35 L363.80,67.19 L364.68,67.04 L365.56,66.88 L366.44,66.73 L367.32,66.58 L368.20,66.43 L369.08,66.28 L369.95,66.13 L370.83,65.98 L371.71,65.83 L372.59,65.68 L373.47,65.54 L374.35,65.39 L375.23,65.24 L376.11,65.10 L376.99,64.95 L377.87,64.81 L378.74,64.67 L379.62,64.53 L380.50,64.38 L381.38,64.24 L382.26,64.10 L383.14,63.96 L384.02,63.82 L384.90,63.68 L385.78,63.55 L386.66,63.41 L387.54,63.27 L388.41,63.13 L389.29,63.00 L390.17,62.86 L391.05,62.73 L391.93,62.60 L392.81,62.46 L393.69,62.33 L394.57,62.20 L395.45,62.07 L396.33,61.93 L397.20,61.80 L398.08,61.67 L398.96,61.55 L399.84,61.42 L400.72,61.29 L401.60,61.16 L402.48,61.03 L403.36,60.91 L404.24,60.78 L405.12,60.66 L405.99,60.53 L406.87,60.41 L407.75,60.28 L408.63,60.16 L409.51,60.04 L410.39,59.92 L411.27,59.80 L412.15,59.67 L413.03,59.55 L413.91,59.43 L414.79,59.32 L415.66,59.20 L416.54,59.08 L417.42,58.96 L418.30,58.84 L419.18,58.73 L420.06,58.61 L420.94,58.49 L421.82,58.38 L422.70,58.26 L423.58,58.15 L424.45,58.04 L425.33,57.92 L426.21,57.81 L427.09,57.70 L427.97,57.59 L428.85,57.47 L429.73,57.36 L430.61,57.25 L431.49,57.14 L432.37,57.03 L433.24,56.93 L434.12,56.82 L435.00,56.71 L435.88,56.60 L436.76,56.49 L437.64,56.39 L438.52,56.28 L439.40,56.18 L440.28,56.07 L441.16,55.96 L442.04,55.86 L442.91,55.76 L443.79,55.65 L444.67,55.55 L445.55,55.45 L446.43,55.34 L447.31,55.24 L448.19,55.14 L449.07,55.04 L449.95,54.94 L450.83,54.84 L451.70,54.74 L452.58,54.64 L453.46,54.54 L454.34,54.44 L455.22,54.35 L456.10,54.25 L456.98,54.15 L457.86,54.05 L458.74,53.96 L459.62,53.86 L460.49,53.77 L461.37,53.67 L462.25,53.58 L463.13,53.48 L464.01,53.39 L464.89,53.29 L465.77,53.20 L466.65,53.11 L467.53,53.01 L468.41,52.92 L469.29,52.83 L470.16,52.74 L471.04,52.65 L471.92,52.56 L472.80,52.47 L473.68,52.38 L474.56,52.29 L475.44,52.20 L476.32,52.11 L477.20,52.02 L478.08,51.93 L478.95,51.84 L479.83,51.76 L480.71,51.67 L481.59,51.58 L482.47,51.50 L483.35,51.41 L484.23,51.33 L485.11,51.24 L485.99,51.15 L486.87,51.07 L487.74,50.99 L488.62,50.90 L489.50,50.82 L490.38,50.73 L491.26,50.65 L492.14,50.57 L493.02,50.49 L493.90,50.40 L494.78,50.32 L495.66,50.24 L496.54,50.16 L497.41,50.08 L498.29,50.00 L499.17,49.92 L500.05,49.84 L500.93,49.76 L501.81,49.68 L502.69,49.60 L503.57,49.52 L504.45,49.44 L505.33,49.37 L506.20,49.29 L507.08,49.21 L507.96,49.13 L508.84,49.06 L509.72,48.98 L510.60,48.90 L511.48,48.83 L512.36,48.75 L513.24,48.68 L514.12,48.60 L515.00,48.53 L515.87,48.45 L516.75,48.38 L517.63,48.30 L518.51,48.23 L519.39,48.16 L520.27,48.08 L521.15,48.01 L522.03,47.94 L522.91,47.86 L523.79,47.79 L524.66,47.72 L525.54,47.65 L526.42,47.58 L527.30,47.51 L528.18,47.44 L529.06,47.37 L529.94,47.30 L530.82,47.23 L531.70,47.16 L532.58,47.09 L533.45,47.02 L534.33,46.95 L535.21,46.88 L536.09,46.81 L536.97,46.74 L537.85,46.67 L538.73,46.61 L539.61,46.54 L540.49,46.47 L541.37,46.40 L542.25,46.34 L543.12,46.27 L544.00,46.21 L544.88,46.14 L545.76,46.07 L546.64,46.01 L547.52,45.94 L548.40,45.88 L549.28,45.81 L550.16,45.75 L551.04,45.68 L551.91,45.62 L552.79,45.55 L553.67,45.49 L554.55,45.43 L555.43,45.36 L556.31,45.30 L557.19,45.24 L558.07,45.18 L558.95,45.11 L559.83,45.05 L560.70,44.99 L561.58,44.93 L562.46,44.87 L563.34,44.80 L564.22,44.74 L565.10,44.68 L565.98,44.62 L566.86,44.56 L567.74,44.50 L568.62,44.44 L569.50,44.38 L570.37,44.32 L571.25,44.26 L572.13,44.20 L573.01,44.14 L573.89,44.08 L574.77,44.03 L575.65,43.97 L576.53,43.91 L577.41,43.85 L578.29,43.79 L579.16,43.74 L580.04,43.68 L580.92,43.62 L581.80,43.56 L582.68,43.51 L583.56,43.45 L584.44,43.39 L585.32,43.34 L586.20,43.28 L587.08,43.22 L587.95,43.17 L588.83,43.11 L589.71,43.06 L590.59,43.00 L591.47,42.95 L592.35,42.89" fill="none" stroke="#00aa00" stroke-width="2.5" stroke-linejoin="round" stroke-linecap="square"/>
<path d="M65.81,10.06 L66.69,16.32 L67.57,22.43 L68.45,28.40 L69.32,34.22 L70.20,39.90 L71.08,45.45 L71.96,50.86 L72.84,56.14 L73.72,61.29 L74.60,66.32 L75.48,71.22 L76.36,76.00 L77.24,80.66 L78.12,85.21 L78.99,89.64 L79.87,93.96 L80.75,98.17 L81.63,102.27 L82.51,106.27 L83.39,110.17 L84.27,113.97 L85.15,117.66 L86.03,121.26 L86.91,124.77 L87.78,128.18 L88.66,131.50 L89.54,134.73 L90.42,137.88 L91.30,140.94 L92.18,143.92 L93.06,146.81 L93.94,149.63 L94.82,152.37 L95.70,155.03 L96.57,157.61 L97.45,160.12 L98.33,162.56 L99.21,164.93 L100.09,167.23 L100.97,169.46 L101.85,171.63 L102.73,173.73 L103.61,175.76 L104.49,177.74 L105.37,179.65 L106.24,181.51 L107.12,183.31 L108.00,185.05 L108.88,186.73 L109.76,188.36 L110.64,189.94 L111.52,191.46 L112.40,192.93 L113.28,194.35 L114.16,195.73 L115.03,197.05 L115.91,198.33 L116.79,199.57 L117.67,200.75 L118.55,201.90 L119.43,203.00 L120.31,204.06 L121.19,205.08 L122.07,206.06 L122.95,206.99 L123.83,207.90 L124.70,208.76 L125.58,209.59 L126.46,210.38 L127.34,211.13 L128.22,211.85 L129.10,212.54 L129.98,213.20 L130.86,213.82 L131.74,214.41 L132.62,214.97 L133.49,215.50 L134.37,216.01 L135.25,216.48 L136.13,216.93 L137.01,217.35 L137.89,217.74 L138.77,218.10 L139.65,218.45 L140.53,218.76 L141.41,219.05 L142.28,219.32 L143.16,219.57 L144.04,219.79 L144.92,219.99 L145.80,220.17 L146.68,220.33 L147.56,220.47 L148.44,220.59 L149.32,220.68 L150.20,220.76 L151.08,220.83 L151.95,220.87 L152.83,220.89 L153.71,220.90 L154.59,220.90 L155.47,220.87 L156.35,220.83 L157.23,220.77 L158.11,220.70 L158.99,220.62 L159.87,220.52 L160.74,220.40 L161.62,220.28 L162.50,220.14 L163.38,219.98 L164.26,219.82 L165.14,219.64 L166.02,219.45 L166.90,219.24 L167.78,219.03 L168.66,218.81 L169.53,218.57 L170.41,218.33 L171.29,218.07 L172.17,217.81 L173.05,217.53 L173.93,217.25 L174.81,216.95 L175.69,216.65 L176.57,216.34 L177.45,216.02 L178.33,215.70 L179.20,215.36 L180.08,215.02 L180.96,214.67 L181.84,214.32 L182.72,213.95 L183.60,213.58 L184.48,213.21 L185.36,212.83 L186.24,212.44 L187.12,212.04 L187.99,211.64 L188.87,211.24 L189.75,210.83 L190.63,210.41 L191.51,209.99 L192.39,209.57 L193.27,209.14 L194.15,208.70 L195.03,208.26 L195.91,207.82 L196.78,207.37 L197.66,206.92 L198.54,206.47 L199.42,206.01 L200.30,205.55 L201.18,205.09 L202.06,204.62 L202.94,204.15 L203.82,203.68 L204.70,203.20 L205.58,202.72 L206.45,202.24 L207.33,201.76 L208.21,201.27 L209.09,200.78 L209.97,200.29 L210.85,199.80 L211.73,199.31 L212.61,198.81 L213.49,198.32 L214.37,197.82 L215.24,197.32 L216.12,196.82 L217.00,196.31 L217.88,195.81 L218.76,195.31 L219.64,194.80 L220.52,194.29 L221.40,193.79 L222.28,193.28 L223.16,192.77 L224.03,192.26 L224.91,191.75 L225.79,191.24 L226.67,190.73 L227.55,190.21 L228.43,189.70 L229.31,189.19 L230.19,188.68 L231.07,188.17 L231.95,187.65 L232.83,187.14 L233.70,186.63 L234.58,186.12 L235.46,185.61 L236.34,185.09 L237.22,184.58 L238.10,184.07 L238.98,183.56 L239.86,183.05 L240.74,182.54 L241.62,182.03 L242.49,181.52 L243.37,181.01 L244.25,180.51 L245.13,180.00 L246.01,179.49 L246.89,178.99 L247.77,178.48 L248.65,177.98 L249.53,177.48 L250.41,176.98 L251.28,176.47 L252.16,175.97 L253.04,175.47 L253.92,174.98 L254.80,174.48 L255.68,173.98 L256.56,173.49 L257.44,172.99 L258.32,172.50 L259.20,172.01 L260.08,171.52 L260.95,171.03 L261.83,170.54 L262.71,170.05 L263.59,169.57 L264.47,169.08 L265.35,168.60 L266.23,168.12 L267.11,167.64 L267.99,167.16 L268.87,166.68 L269.74,166.21 L270.62,165.73 L271.50,165.26 L272.38,164.79 L273.26,164.32 L274.14,163.85 L275.02,163.38 L275.90,162.91 L276.78,162.45 L277.66,161.99 L278.53,161.52 L279.41,161.06 L280.29,160.61 L281.17,160.15 L282.05,159.69 L282.93,159.24 L283.81,158.79 L284.69,158.34 L285.57,157.89 L286.45,157.44 L287.33,156.99 L288.20,156.55 L289.08,156.11 L289.96,155.67 L290.84,155.23 L291.72,154.79 L292.60,154.35 L293.48,153.92 L294.36,153.49 L295.24,153.05 L296.12,152.62 L296.99,152.20 L297.87,151.77 L298.75,151.35 L299.63,150.92 L300.51,150.50 L301.39,150.08 L302.27,149.66 L303.15,149.25 L304.03,148.83 L304.91,148.42 L305.78,148.01 L306.66,147.60 L307.54,147.19 L308.42,146.78 L309.30,146.38 L310.18,145.97 L311.06,145.57 L311.94,145.17 L312.82,144.77 L313.70,144.38 L314.58,143.98 L315.45,143.59 L316.33,143.20 L317.21,142.81 L318.09,142.42 L318.97,142.03 L319.85,141.65 L320.73,141.26 L321.61,140.88 L322.49,140.50 L323.37,140.12 L324.24,139.75 L325.12,139.37 L326.00,139.00 L326.88,138.63 L327.76,138.25 L328.64,137.89 L329.52,137.52 L330.40,137.15 L331.28,136.79 L332.16,136.43 L333.04,136.06 L333.91,135.70 L334.79,135.35 L335.67,134.99 L336.55,134.64 L337.43,134.28 L338.31,133.93 L339.19,133.58 L340.07,133.23 L340.95,132.89 L341.83,132.54 L342.70,132.20 L343.58,131.85 L344.46,131.51 L345.34,131.17 L346.22,130.83 L347.10,130.50 L347.98,130.16 L348.86,129.83 L349.74,129.50 L350.62,129.17 L351.49,128.84 L352.37,128.51 L353.25,128.18 L354.13,127.86 L355.01,127.54 L355.89,127.21 L356.77,126.89 L357.65,126.58 L358.53,126.26 L359.41,125.94 L360.29,125.63 L361.16,125.31 L362.04,125.00 L362.92,124.69 L363.80,124.38 L364.68,124.08 L365.56,123.77 L366.44,123.46 L367.32,123.16 L368.20,122.86 L369.08,122.56 L369.95,122.26 L370.83,121.96 L371.71,121.66 L372.59,121.37 L373.47,121.07 L374.35,120.78 L375.23,120.49 L376.11,120.20 L376.99,119.91 L377.87,119.62 L378.74,119.34 L379.62,119.05 L380.50,118.77 L381.38,118.48 L382.26,118.20 L383.14,117.92 L384.02,117.64 L384.90,117.37 L385.78,117.09 L386.66,116.82 L387.54,116.54 L388.41,116.27 L389.29,116.00 L390.17,115.73 L391.05,115.46 L391.93,115.19 L392.81,114.92 L393.69,114.66 L394.57,114.39 L395.45,114.13 L396.33,113.87 L397.20,113.61 L398.08,113.35 L398.96,113.09 L399.84,112.83 L400.72,112.58 L401.60,112.32 L402.48,112.07 L403.36,111.82 L404.24,111.56 L405.12,111.31 L405.99,111.06 L406.87,110.82 L407.75,110.57 L408.63,110.32 L409.51,110.08 L410.39,109.83 L411.27,109.59 L412.15,109.35 L413.03,109.11 L413.91,108.87 L414.79,108.63 L415.66,108.39 L416.54,108.16 L417.42,107.92 L418.30,107.69 L419.18,107.45 L420.06,107.22 L420.94,106.99 L421.82,106.76 L422.70,106.53 L423.58,106.30 L424.45,106.07 L425.33,105.85 L426.21,105.62 L427.09,105.40 L427.97,105.17 L428.85,104.95 L429.73,104.73 L430.61,104.51 L431.49,104.29 L432.37,104.07 L433.24,103.85 L434.12,103.63 L435.00,103.42 L435.88,103.20 L436.76,102.99 L437.64,102.77 L438.52,102.56 L439.40,102.35 L440.28,102.14 L441.16,101.93 L442.04,101.72 L442.91,101.51 L443.79,101.31 L444.67,101.10 L445.55,100.89 L446.43,100.69 L447.31,100.49 L448.19,100.28 L449.07,100.08 L449.95,99.88 L450.83,99.68 L451.70,99.48 L452.58,99.28 L453.46,99.08 L454.34,98.89 L455.22,98.69 L456.10,98.50 L456.98,98.30 L457.86,98.11 L458.74,97.92 L459.62,97.72 L460.49,97.53 L461.37,97.34 L462.25,97.15 L463.13,96.96 L464.01,96.77 L464.89,96.59 L465.77,96.40 L466.65,96.21 L467.53,96.03 L468.41,95.85 L469.29,95.66 L470.16,95.48 L471.04,95.30 L471.92,95.12 L472.80,94.93 L473.68,94.75 L474.56,94.58 L475.44,94.40 L476.32,94.22 L477.20,94.04 L478.08,93.87 L478.95,93.69 L479.83,93.51 L480.71,93.34 L481.59,93.17 L482.47,92.99 L483.35,92.82 L484.23,92.65 L485.11,92.48 L485.99,92.31 L486.87,92.14 L487.74,91.97 L488.62,91.80 L489.50,91.64 L490.38,91.47 L491.26,91.30 L492.14,91.14 L493.02,90.97 L493.90,90.81 L494.78,90.64 L495.66,90.48 L496.54,90.32 L497.41,90.16 L498.29,90.00 L499.17,89.84 L500.05,89.68 L500.93,89.52 L501.81,89.36 L502.69,89.20 L503.57,89.04 L504.45,88.89 L505.33,88.73 L506.20,88.58 L507.08,88.42 L507.96,88.27 L508.84,88.11 L509.72,87.96 L510.60,87.81 L511.48,87.65 L512.36,87.50 L513.24,87.35 L514.12,87.20 L515.00,87.05 L515.87,86.90 L516.75,86.75 L517.63,86.61 L518.51,86.46 L519.39,86.31 L520.27,86.17 L521.15,86.02 L522.03,85.87 L522.91,85.73 L523.79,85.59 L524.66,85.44 L525.54,85.30 L526.42,85.16 L527.30,85.01 L528.18,84.87 L529.06,84.73 L529.94,84.59 L530.82,84.45 L531.70,84.31 L532.58,84.17 L533.45,84.03 L534.33,83.90 L535.21,83.76 L536.09,83.62 L536.97,83.48 L537.85,83.35 L538.73,83.21 L539.61,83.08 L540.49,82.94 L541.37,82.81 L542.25,82.68 L543.12,82.54 L544.00,82.41 L544.88,82.28 L545.76,82.15 L546.64,82.02 L547.52,81.88 L548.40,81.75 L549.28,81.62 L550.16,81.49 L551.04,81.37 L551.91,81.24 L552.79,81.11 L553.67,80.98 L554.55,80.86 L555.43,80.73 L556.31,80.60 L557.19,80.48 L558.07,80.35 L558.95,80.23 L559.83,80.10 L560.70,79.98 L561.58,79.85 L562.46,79.73 L563.34,79.61 L564.22,79.49 L565.10,79.36 L565.98,79.24 L566.86,79.12 L567.74,79.00 L568.62,78.88 L569.50,78.76 L570.37,78.64 L571.25,78.52 L572.13,78.40 L573.01,78.29 L573.89,78.17 L574.77,78.05 L575.65,77.93 L576.53,77.82 L577.41,77.70 L578.29,77.59 L579.16,77.47 L580.04,77.36 L580.92,77.24 L581.80,77.13 L582.68,77.01 L583.56,76.90 L584.44,76.79 L585.32,76.67 L586.20,76.56 L587.08,76.45 L587.95,76.34 L588.83,76.23 L589.71,76.12 L590.59,76.01 L591.47,75.90 L592.35,75.79" fill="none" stroke="#0000ff" stroke-width="2.5" stroke-linejoin="round" stroke-linecap="square"/>
<path d="M65.81,10.09 L66.69,19.19 L67.57,28.06 L68.45,36.73 L69.32,45.19 L70.20,53.45 L71.08,61.51 L71.96,69.37 L72.84,77.04 L73.72,84.53 L74.60,91.83 L75.48,98.95 L76.36,105.90 L77.24,112.67 L78.12,119.28 L78.99,125.72 L79.87,131.99 L80.75,138.11 L81.63,144.08 L82.51,149.89 L83.39,155.55 L84.27,161.06 L85.15,166.43 L86.03,171.66 L86.91,176.76 L87.78,181.72 L88.66,186.54 L89.54,191.24 L90.42,195.81 L91.30,200.26 L92.18,204.58 L93.06,208.79 L93.94,212.88 L94.82,216.86 L95.70,220.72 L96.57,224.48 L97.45,228.13 L98.33,231.67 L99.21,235.11 L100.09,238.45 L100.97,241.70 L101.85,244.84 L102.73,247.90 L103.61,250.86 L104.49,253.73 L105.37,256.51 L106.24,259.20 L107.12,261.81 L108.00,264.34 L108.88,266.79 L109.76,269.16 L110.64,271.45 L111.52,273.66 L112.40,275.80 L113.28,277.87 L114.16,279.86 L115.03,281.79 L115.91,283.65 L116.79,285.44 L117.67,287.16 L118.55,288.83 L119.43,290.43 L120.31,291.97 L121.19,293.45 L122.07,294.87 L122.95,296.23 L123.83,297.54 L124.70,298.80 L125.58,300.00 L126.46,301.15 L127.34,302.24 L128.22,303.29 L129.10,304.29 L129.98,305.24 L130.86,306.15 L131.74,307.01 L132.62,307.83 L133.49,308.60 L134.37,309.33 L135.25,310.02 L136.13,310.67 L137.01,311.27 L137.89,311.84 L138.77,312.38 L139.65,312.87 L140.53,313.33 L141.41,313.75 L142.28,314.14 L143.16,314.50 L144.04,314.83 L144.92,315.12 L145.80,315.38 L146.68,315.61 L147.56,315.81 L148.44,315.98 L149.32,316.12 L150.20,316.24 L151.08,316.33 L151.95,316.39 L152.83,316.43 L153.71,316.44 L154.59,316.43 L155.47,316.40 L156.35,316.34 L157.23,316.26 L158.11,316.15 L158.99,316.03 L159.87,315.88 L160.74,315.72 L161.62,315.53 L162.50,315.33 L163.38,315.10 L164.26,314.86 L165.14,314.60 L166.02,314.33 L166.90,314.03 L167.78,313.72 L168.66,313.40 L169.53,313.05 L170.41,312.70 L171.29,312.33 L172.17,311.94 L173.05,311.54 L173.93,311.13 L174.81,310.70 L175.69,310.27 L176.57,309.82 L177.45,309.35 L178.33,308.88 L179.20,308.39 L180.08,307.90 L180.96,307.39 L181.84,306.87 L182.72,306.34 L183.60,305.81 L184.48,305.26 L185.36,304.71 L186.24,304.14 L187.12,303.57 L187.99,302.99 L188.87,302.40 L189.75,301.80 L190.63,301.20 L191.51,300.59 L192.39,299.97 L193.27,299.35 L194.15,298.71 L195.03,298.08 L195.91,297.43 L196.78,296.79 L197.66,296.13 L198.54,295.47 L199.42,294.81 L200.30,294.14 L201.18,293.46 L202.06,292.78 L202.94,292.10 L203.82,291.41 L204.70,290.72 L205.58,290.03 L206.45,289.33 L207.33,288.62 L208.21,287.92 L209.09,287.21 L209.97,286.50 L210.85,285.78 L211.73,285.07 L212.61,284.35 L213.49,283.62 L214.37,282.90 L215.24,282.17 L216.12,281.45 L217.00,280.72 L217.88,279.98 L218.76,279.25 L219.64,278.51 L220.52,277.78 L221.40,277.04 L222.28,276.30 L223.16,275.56 L224.03,274.82 L224.91,274.08 L225.79,273.34 L226.67,272.60 L227.55,271.85 L228.43,271.11 L229.31,270.36 L230.19,269.62 L231.07,268.88 L231.95,268.13 L232.83,267.39 L233.70,266.64 L234.58,265.90 L235.46,265.16 L236.34,264.41 L237.22,263.67 L238.10,262.93 L238.98,262.18 L239.86,261.44 L240.74,260.70 L241.62,259.96 L242.49,259.22 L243.37,258.48 L244.25,257.75 L245.13,257.01 L246.01,256.27 L246.89,255.54 L247.77,254.81 L248.65,254.08 L249.53,253.34 L250.41,252.61 L251.28,251.89 L252.16,251.16 L253.04,250.43 L253.92,249.71 L254.80,248.99 L255.68,248.27 L256.56,247.55 L257.44,246.83 L258.32,246.11 L259.20,245.40 L260.08,244.69 L260.95,243.98 L261.83,243.27 L262.71,242.56 L263.59,241.85 L264.47,241.15 L265.35,240.45 L266.23,239.75 L267.11,239.05 L267.99,238.35 L268.87,237.66 L269.74,236.97 L270.62,236.28 L271.50,235.59 L272.38,234.91 L273.26,234.22 L274.14,233.54 L275.02,232.86 L275.90,232.18 L276.78,231.51 L277.66,230.84 L278.53,230.17 L279.41,229.50 L280.29,228.83 L281.17,228.17 L282.05,227.51 L282.93,226.85 L283.81,226.19 L284.69,225.53 L285.57,224.88 L286.45,224.23 L287.33,223.58 L288.20,222.94 L289.08,222.29 L289.96,221.65 L290.84,221.02 L291.72,220.38 L292.60,219.75 L293.48,219.11 L294.36,218.48 L295.24,217.86 L296.12,217.23 L296.99,216.61 L297.87,215.99 L298.75,215.38 L299.63,214.76 L300.51,214.15 L301.39,213.54 L302.27,212.93 L303.15,212.33 L304.03,211.72 L304.91,211.12 L305.78,210.52 L306.66,209.93 L307.54,209.34 L308.42,208.75 L309.30,208.16 L310.18,207.57 L311.06,206.99 L311.94,206.41 L312.82,205.83 L313.70,205.25 L314.58,204.68 L315.45,204.11 L316.33,203.54 L317.21,202.97 L318.09,202.41 L318.97,201.84 L319.85,201.28 L320.73,200.73 L321.61,200.17 L322.49,199.62 L323.37,199.07 L324.24,198.52 L325.12,197.98 L326.00,197.43 L326.88,196.89 L327.76,196.35 L328.64,195.82 L329.52,195.28 L330.40,194.75 L331.28,194.22 L332.16,193.70 L333.04,193.17 L333.91,192.65 L334.79,192.13 L335.67,191.61 L336.55,191.10 L337.43,190.58 L338.31,190.07 L339.19,189.56 L340.07,189.06 L340.95,188.55 L341.83,188.05 L342.70,187.55 L343.58,187.05 L344.46,186.56 L345.34,186.06 L346.22,185.57 L347.10,185.08 L347.98,184.60 L348.86,184.11 L349.74,183.63 L350.62,183.15 L351.49,182.67 L352.37,182.20 L353.25,181.72 L354.13,181.25 L355.01,180.78 L355.89,180.31 L356.77,179.85 L357.65,179.38 L358.53,178.92 L359.41,178.46 L360.29,178.01 L361.16,177.55 L362.04,177.10 L362.92,176.65 L363.80,176.20 L364.68,175.75 L365.56,175.31 L366.44,174.86 L367.32,174.42 L368.20,173.98 L369.08,173.55 L369.95,173.11 L370.83,172.68 L371.71,172.25 L372.59,171.82 L373.47,171.39 L374.35,170.96 L375.23,170.54 L376.11,170.12 L376.99,169.70 L377.87,169.28 L378.74,168.86 L379.62,168.45 L380.50,168.04 L381.38,167.63 L382.26,167.22 L383.14,166.81 L384.02,166.41 L384.90,166.00 L385.78,165.60 L386.66,165.20 L387.54,164.81 L388.41,164.41 L389.29,164.01 L390.17,163.62 L391.05,163.23 L391.93,162.84 L392.81,162.46 L393.69,162.07 L394.57,161.69 L395.45,161.30 L396.33,160.92 L397.20,160.54 L398.08,160.17 L398.96,159.79 L399.84,159.42 L400.72,159.05 L401.60,158.68 L402.48,158.31 L403.36,157.94 L404.24,157.57 L405.12,157.21 L405.99,156.85 L406.87,156.49 L407.75,156.13 L408.63,155.77 L409.51,155.41 L410.39,155.06 L411.27,154.71 L412.15,154.35 L413.03,154.00 L413.91,153.66 L414.79,153.31 L415.66,152.96 L416.54,152.62 L417.42,152.28 L418.30,151.94 L419.18,151.60 L420.06,151.26 L420.94,150.92 L421.82,150.59 L422.70,150.26 L423.58,149.92 L424.45,149.59 L425.33,149.26 L426.21,148.94 L427.09,148.61 L427.97,148.28 L428.85,147.96 L429.73,147.64 L430.61,147.32 L431.49,147.00 L432.37,146.68 L433.24,146.36 L434.12,146.05 L435.00,145.73 L435.88,145.42 L436.76,145.11 L437.64,144.80 L438.52,144.49 L439.40,144.18 L440.28,143.88 L441.16,143.57 L442.04,143.27 L442.91,142.97 L443.79,142.67 L444.67,142.37 L445.55,142.07 L446.43,141.77 L447.31,141.48 L448.19,141.18 L449.07,140.89 L449.95,140.60 L450.83,140.31 L451.70,140.02 L452.58,139.73 L453.46,139.44 L454.34,139.15 L455.22,138.87 L456.10,138.59 L456.98,138.30 L457.86,138.02 L458.74,137.74 L459.62,137.46 L460.49,137.18 L461.37,136.91 L462.25,136.63 L463.13,136.36 L464.01,136.08 L464.89,135.81 L465.77,135.54 L466.65,135.27 L467.53,135.00 L468.41,134.73 L469.29,134.47 L470.16,134.20 L471.04,133.94 L471.92,133.67 L472.80,133.41 L473.68,133.15 L474.56,132.89 L475.44,132.63 L476.32,132.37 L477.20,132.11 L478.08,131.86 L478.95,131.60 L479.83,131.35 L480.71,131.09 L481.59,130.84 L482.47,130.59 L483.35,130.34 L484.23,130.09 L485.11,129.84 L485.99,129.60 L486.87,129.35 L487.74,129.10 L488.62,128.86 L489.50,128.62 L490.38,128.37 L491.26,128.13 L492.14,127.89 L493.02,127.65 L493.90,127.41 L494.78,127.18 L495.66,126.94 L496.54,126.70 L497.41,126.47 L498.29,126.24 L499.17,126.00 L500.05,125.77 L500.93,125.54 L501.81,125.31 L502.69,125.08 L503.57,124.85 L504.45,124.62 L505.33,124.40 L506.20,124.17 L507.08,123.94 L507.96,123.72 L508.84,123.50 L509.72,123.27 L510.60,123.05 L511.48,122.83 L512.36,122.61 L513.24,122.39 L514.12,122.17 L515.00,121.96 L515.87,121.74 L516.75,121.52 L517.63,121.31 L518.51,121.09 L519.39,120.88 L520.27,120.67 L521.15,120.46 L522.03,120.25 L522.91,120.03 L523.79,119.83 L524.66,119.62 L525.54,119.41 L526.42,119.20 L527.30,118.99 L528.18,118.79 L529.06,118.58 L529.94,118.38 L530.82,118.18 L531.70,117.97 L532.58,117.77 L533.45,117.57 L534.33,117.37 L535.21,117.17 L536.09,116.97 L536.97,116.77 L537.85,116.58 L538.73,116.38 L539.61,116.18 L540.49,115.99 L541.37,115.79 L542.25,115.60 L543.12,115.40 L544.00,115.21 L544.88,115.02 L545.76,114.83 L546.64,114.64 L547.52,114.45 L548.40,114.26 L549.28,114.07 L550.16,113.88 L551.04,113.69 L551.91,113.51 L552.79,113.32 L553.67,113.14 L554.55,112.95 L555.43,112.77 L556.31,112.59 L557.19,112.40 L558.07,112.22 L558.95,112.04 L559.83,111.86 L560.70,111.68 L561.58,111.50 L562.46,111.32 L563.34,111.14 L564.22,110.96 L565.10,110.79 L565.98,110.61 L566.86,110.43 L567.74,110.26 L568.62,110.08 L569.50,109.91 L570.37,109.74 L571.25,109.56 L572.13,109.39 L573.01,109.22 L573.89,109.05 L574.77,108.88 L575.65,108.71 L576.53,108.54 L577.41,108.37 L578.29,108.20 L579.16,108.04 L580.04,107.87 L580.92,107.70 L581.80,107.54 L582.68,107.37 L583.56,107.21 L584.44,107.04 L585.32,106.88 L586.20,106.71 L587.08,106.55 L587.95,106.39 L588.83,106.23 L589.71,106.07 L590.59,105.91 L591.47,105.75 L592.35,105.59" fill="none" stroke="#ff0000" stroke-width="2.5" stroke-linejoin="round" stroke-linecap="square"/>
</g>
<circle cx="153.56" cy="220.33" r="6.4" fill="#0000ff"/>
<circle cx="95.4" cy="220.4" r="6.15" fill="none" stroke="#f02020" stroke-width="1.1"/>
<circle cx="291.9" cy="220.4" r="6.15" fill="none" stroke="#f02020" stroke-width="1.1"/>
<g class="tk">
<line x1="65.80" y1="325.50" x2="65.80" y2="319.80"/>
<line x1="65.80" y1="10.00" x2="65.80" y2="15.70"/>
<line x1="83.35" y1="325.50" x2="83.35" y2="321.90"/>
<line x1="83.35" y1="10.00" x2="83.35" y2="13.60"/>
<line x1="100.90" y1="325.50" x2="100.90" y2="321.90"/>
<line x1="100.90" y1="10.00" x2="100.90" y2="13.60"/>
<line x1="118.46" y1="325.50" x2="118.46" y2="321.90"/>
<line x1="118.46" y1="10.00" x2="118.46" y2="13.60"/>
<line x1="136.01" y1="325.50" x2="136.01" y2="321.90"/>
<line x1="136.01" y1="10.00" x2="136.01" y2="13.60"/>
<line x1="153.56" y1="325.50" x2="153.56" y2="319.80"/>
<line x1="153.56" y1="10.00" x2="153.56" y2="15.70"/>
<line x1="171.11" y1="325.50" x2="171.11" y2="321.90"/>
<line x1="171.11" y1="10.00" x2="171.11" y2="13.60"/>
<line x1="188.66" y1="325.50" x2="188.66" y2="321.90"/>
<line x1="188.66" y1="10.00" x2="188.66" y2="13.60"/>
<line x1="206.21" y1="325.50" x2="206.21" y2="321.90"/>
<line x1="206.21" y1="10.00" x2="206.21" y2="13.60"/>
<line x1="223.77" y1="325.50" x2="223.77" y2="321.90"/>
<line x1="223.77" y1="10.00" x2="223.77" y2="13.60"/>
<line x1="241.32" y1="325.50" x2="241.32" y2="319.80"/>
<line x1="241.32" y1="10.00" x2="241.32" y2="15.70"/>
<line x1="258.87" y1="325.50" x2="258.87" y2="321.90"/>
<line x1="258.87" y1="10.00" x2="258.87" y2="13.60"/>
<line x1="276.42" y1="325.50" x2="276.42" y2="321.90"/>
<line x1="276.42" y1="10.00" x2="276.42" y2="13.60"/>
<line x1="293.97" y1="325.50" x2="293.97" y2="321.90"/>
<line x1="293.97" y1="10.00" x2="293.97" y2="13.60"/>
<line x1="311.52" y1="325.50" x2="311.52" y2="321.90"/>
<line x1="311.52" y1="10.00" x2="311.52" y2="13.60"/>
<line x1="329.08" y1="325.50" x2="329.08" y2="319.80"/>
<line x1="329.08" y1="10.00" x2="329.08" y2="15.70"/>
<line x1="346.63" y1="325.50" x2="346.63" y2="321.90"/>
<line x1="346.63" y1="10.00" x2="346.63" y2="13.60"/>
<line x1="364.18" y1="325.50" x2="364.18" y2="321.90"/>
<line x1="364.18" y1="10.00" x2="364.18" y2="13.60"/>
<line x1="381.73" y1="325.50" x2="381.73" y2="321.90"/>
<line x1="381.73" y1="10.00" x2="381.73" y2="13.60"/>
<line x1="399.28" y1="325.50" x2="399.28" y2="321.90"/>
<line x1="399.28" y1="10.00" x2="399.28" y2="13.60"/>
<line x1="416.83" y1="325.50" x2="416.83" y2="319.80"/>
<line x1="416.83" y1="10.00" x2="416.83" y2="15.70"/>
<line x1="434.39" y1="325.50" x2="434.39" y2="321.90"/>
<line x1="434.39" y1="10.00" x2="434.39" y2="13.60"/>
<line x1="451.94" y1="325.50" x2="451.94" y2="321.90"/>
<line x1="451.94" y1="10.00" x2="451.94" y2="13.60"/>
<line x1="469.49" y1="325.50" x2="469.49" y2="321.90"/>
<line x1="469.49" y1="10.00" x2="469.49" y2="13.60"/>
<line x1="487.04" y1="325.50" x2="487.04" y2="321.90"/>
<line x1="487.04" y1="10.00" x2="487.04" y2="13.60"/>
<line x1="504.59" y1="325.50" x2="504.59" y2="319.80"/>
<line x1="504.59" y1="10.00" x2="504.59" y2="15.70"/>
<line x1="522.14" y1="325.50" x2="522.14" y2="321.90"/>
<line x1="522.14" y1="10.00" x2="522.14" y2="13.60"/>
<line x1="539.70" y1="325.50" x2="539.70" y2="321.90"/>
<line x1="539.70" y1="10.00" x2="539.70" y2="13.60"/>
<line x1="557.25" y1="325.50" x2="557.25" y2="321.90"/>
<line x1="557.25" y1="10.00" x2="557.25" y2="13.60"/>
<line x1="574.80" y1="325.50" x2="574.80" y2="321.90"/>
<line x1="574.80" y1="10.00" x2="574.80" y2="13.60"/>
<line x1="592.35" y1="325.50" x2="592.35" y2="319.80"/>
<line x1="592.35" y1="10.00" x2="592.35" y2="15.70"/>
<line x1="65.80" y1="325.50" x2="69.80" y2="325.50" class="dk"/>
<line x1="592.35" y1="325.50" x2="588.75" y2="325.50"/>
<line x1="65.80" y1="314.98" x2="69.80" y2="314.98" class="dk"/>
<line x1="592.35" y1="314.98" x2="588.75" y2="314.98"/>
<line x1="65.80" y1="304.47" x2="71.90" y2="304.47" class="dk"/>
<line x1="592.35" y1="304.47" x2="586.65" y2="304.47"/>
<line x1="65.80" y1="293.95" x2="69.80" y2="293.95" class="dk"/>
<line x1="592.35" y1="293.95" x2="588.75" y2="293.95"/>
<line x1="65.80" y1="283.43" x2="69.80" y2="283.43" class="dk"/>
<line x1="592.35" y1="283.43" x2="588.75" y2="283.43"/>
<line x1="65.80" y1="272.92" x2="69.80" y2="272.92" class="dk"/>
<line x1="592.35" y1="272.92" x2="588.75" y2="272.92"/>
<line x1="65.80" y1="262.40" x2="71.90" y2="262.40" class="dk"/>
<line x1="592.35" y1="262.40" x2="586.65" y2="262.40"/>
<line x1="65.80" y1="251.88" x2="69.80" y2="251.88" class="dk"/>
<line x1="592.35" y1="251.88" x2="588.75" y2="251.88"/>
<line x1="65.80" y1="241.37" x2="69.80" y2="241.37" class="dk"/>
<line x1="592.35" y1="241.37" x2="588.75" y2="241.37"/>
<line x1="65.80" y1="230.85" x2="69.80" y2="230.85" class="dk"/>
<line x1="592.35" y1="230.85" x2="588.75" y2="230.85"/>
<line x1="65.80" y1="220.33" x2="71.90" y2="220.33" class="dk"/>
<line x1="592.35" y1="220.33" x2="586.65" y2="220.33"/>
<line x1="65.80" y1="209.82" x2="69.80" y2="209.82" class="dk"/>
<line x1="592.35" y1="209.82" x2="588.75" y2="209.82"/>
<line x1="65.80" y1="199.30" x2="69.80" y2="199.30" class="dk"/>
<line x1="592.35" y1="199.30" x2="588.75" y2="199.30"/>
<line x1="65.80" y1="188.78" x2="69.80" y2="188.78" class="dk"/>
<line x1="592.35" y1="188.78" x2="588.75" y2="188.78"/>
<line x1="65.80" y1="178.27" x2="71.90" y2="178.27" class="dk"/>
<line x1="592.35" y1="178.27" x2="586.65" y2="178.27"/>
<line x1="65.80" y1="167.75" x2="69.80" y2="167.75" class="dk"/>
<line x1="592.35" y1="167.75" x2="588.75" y2="167.75"/>
<line x1="65.80" y1="157.23" x2="69.80" y2="157.23" class="dk"/>
<line x1="592.35" y1="157.23" x2="588.75" y2="157.23"/>
<line x1="65.80" y1="146.72" x2="69.80" y2="146.72" class="dk"/>
<line x1="592.35" y1="146.72" x2="588.75" y2="146.72"/>
<line x1="65.80" y1="136.20" x2="71.90" y2="136.20" class="dk"/>
<line x1="592.35" y1="136.20" x2="586.65" y2="136.20"/>
<line x1="65.80" y1="125.68" x2="69.80" y2="125.68" class="dk"/>
<line x1="592.35" y1="125.68" x2="588.75" y2="125.68"/>
<line x1="65.80" y1="115.17" x2="69.80" y2="115.17" class="dk"/>
<line x1="592.35" y1="115.17" x2="588.75" y2="115.17"/>
<line x1="65.80" y1="104.65" x2="69.80" y2="104.65" class="dk"/>
<line x1="592.35" y1="104.65" x2="588.75" y2="104.65"/>
<line x1="65.80" y1="94.13" x2="71.90" y2="94.13" class="dk"/>
<line x1="592.35" y1="94.13" x2="586.65" y2="94.13"/>
<line x1="65.80" y1="83.62" x2="69.80" y2="83.62" class="dk"/>
<line x1="592.35" y1="83.62" x2="588.75" y2="83.62"/>
<line x1="65.80" y1="73.10" x2="69.80" y2="73.10" class="dk"/>
<line x1="592.35" y1="73.10" x2="588.75" y2="73.10"/>
<line x1="65.80" y1="62.58" x2="69.80" y2="62.58" class="dk"/>
<line x1="592.35" y1="62.58" x2="588.75" y2="62.58"/>
<line x1="65.80" y1="52.07" x2="71.90" y2="52.07" class="dk"/>
<line x1="592.35" y1="52.07" x2="586.65" y2="52.07"/>
<line x1="65.80" y1="41.55" x2="69.80" y2="41.55" class="dk"/>
<line x1="592.35" y1="41.55" x2="588.75" y2="41.55"/>
<line x1="65.80" y1="31.03" x2="69.80" y2="31.03" class="dk"/>
<line x1="592.35" y1="31.03" x2="588.75" y2="31.03"/>
<line x1="65.80" y1="20.52" x2="69.80" y2="20.52" class="dk"/>
<line x1="592.35" y1="20.52" x2="588.75" y2="20.52"/>
<line x1="65.80" y1="10.00" x2="71.90" y2="10.00" class="dk"/>
<line x1="592.35" y1="10.00" x2="586.65" y2="10.00"/>
</g>
<g opacity="0.999">
<g transform="translate(65.30,345.80) rotate(0.05) scale(1.000,1)"><text text-anchor="middle" style="font-size:17.5px">0</text></g>
<g transform="translate(153.06,345.80) rotate(0.05) scale(1.000,1)"><text text-anchor="middle" style="font-size:17.5px">1</text></g>
<g transform="translate(240.82,345.80) rotate(0.05) scale(1.000,1)"><text text-anchor="middle" style="font-size:17.5px">2</text></g>
<g transform="translate(328.58,345.80) rotate(0.05) scale(1.000,1)"><text text-anchor="middle" style="font-size:17.5px">3</text></g>
<g transform="translate(416.33,345.80) rotate(0.05) scale(1.000,1)"><text text-anchor="middle" style="font-size:17.5px">4</text></g>
<g transform="translate(504.09,345.80) rotate(0.05) scale(1.000,1)"><text text-anchor="middle" style="font-size:17.5px">5</text></g>
<g transform="translate(591.85,345.80) rotate(0.05) scale(1.000,1)"><text text-anchor="middle" style="font-size:17.5px">6</text></g>
<g transform="translate(61.60,310.27) rotate(0.05) scale(1.000,1)"><text text-anchor="end" style="font-size:17.5px"><tspan dy="1.5">−</tspan><tspan dy="-1.5" dx="1.3">0.4</tspan></text></g>
<g transform="translate(61.60,268.20) rotate(0.05) scale(1.000,1)"><text text-anchor="end" style="font-size:17.5px"><tspan dy="1.5">−</tspan><tspan dy="-1.5" dx="1.3">0.2</tspan></text></g>
<g transform="translate(61.60,226.13) rotate(0.05) scale(1.000,1)"><text text-anchor="end" style="font-size:17.5px">0.0</text></g>
<g transform="translate(61.60,184.07) rotate(0.05) scale(1.000,1)"><text text-anchor="end" style="font-size:17.5px">0.2</text></g>
<g transform="translate(61.60,142.00) rotate(0.05) scale(1.000,1)"><text text-anchor="end" style="font-size:17.5px">0.4</text></g>
<g transform="translate(61.60,99.93) rotate(0.05) scale(1.000,1)"><text text-anchor="end" style="font-size:17.5px">0.6</text></g>
<g transform="translate(61.60,57.87) rotate(0.05) scale(1.000,1)"><text text-anchor="end" style="font-size:17.5px">0.8</text></g>
<g transform="translate(61.60,15.80) rotate(0.05) scale(1.000,1)"><text text-anchor="end" style="font-size:17.5px">1.0</text></g>
<g transform="translate(399.10,61.70) rotate(-6.50)"><rect x="-24.8" y="-10" width="49.6" height="20" fill="#fff"/><g transform="scale(1.02,1)"><text x="0" y="5.8" text-anchor="middle" style="font-size:17.5px;stroke-width:0.1px">M&lt;M<tspan dy="3.9" style="font-size:13px">0</tspan></text></g></g><g transform="translate(460.70,97.40) rotate(-8.70)"><rect x="-24.8" y="-10" width="49.6" height="20" fill="#fff"/><g transform="scale(1.02,1)"><text x="0" y="5.8" text-anchor="middle" style="font-size:17.5px;stroke-width:0.1px">M=M<tspan dy="3.9" style="font-size:13px">0</tspan></text></g></g><g transform="translate(521.90,120.10) rotate(-9.40)"><rect x="-24.8" y="-10" width="49.6" height="20" fill="#fff"/><g transform="scale(1.02,1)"><text x="0" y="5.8" text-anchor="middle" style="font-size:17.5px;stroke-width:0.1px">M&gt;M<tspan dy="3.9" style="font-size:13px">0</tspan></text></g></g>
<line x1="388.4" y1="254.9" x2="442" y2="254.9" stroke="#6a6a6a" stroke-width="2.1" stroke-dasharray="8.0 3.4"/>
<line x1="388.4" y1="285.3" x2="444.9" y2="285.3" stroke="#000" stroke-width="2.6"/>
<g transform="translate(452.9,260.8) rotate(0.05) scale(1.073,1)"><text style="font-size:17.5px">Schwarzschild</text></g>
<g transform="translate(452.9,291.0) rotate(0.05) scale(1.073,1)"><text style="font-size:17.5px">GUP</text></g>
<g transform="translate(0,373.5) rotate(0.05)"><text style="font-size:17.8px"><tspan x="311.9">r</tspan><tspan x="322.5" dy="1.8">/</tspan><tspan x="333.3" dy="-1.8" font-style="italic">r</tspan><tspan x="338.6" dy="2.9" style="font-size:14px">0</tspan></text></g>
<g transform="translate(15.7,168.1) rotate(-90) scale(1.03,1)"><text x="0" y="0" text-anchor="middle" style="font-size:17.8px"><tspan dy="1.7">−</tspan><tspan dy="-1.7">g</tspan><tspan dy="4.0" dx="-1.2" style="font-size:14px;letter-spacing:-0.1px">00</tspan></text></g>
</g>
</svg>
</body></html>
